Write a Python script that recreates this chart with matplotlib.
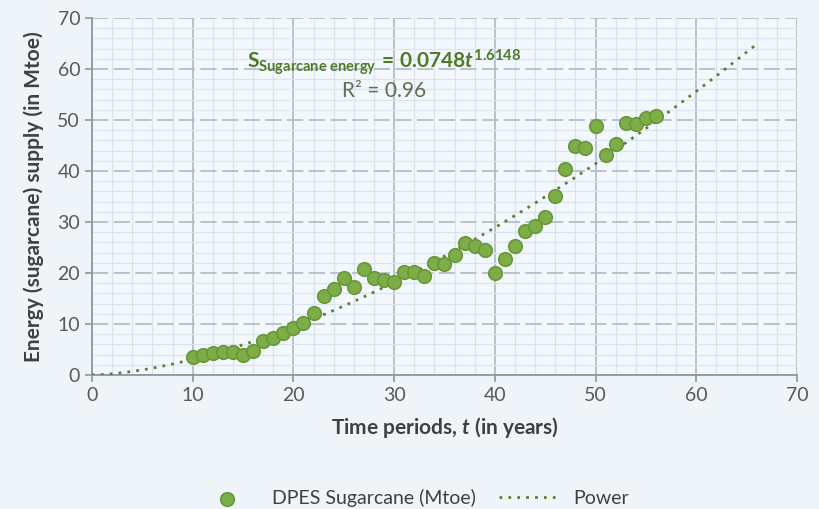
import numpy as np
import matplotlib.pyplot as plt
from matplotlib.ticker import MultipleLocator

# data
t_years = [10, 11, 12, 13, 14, 15, 16, 17, 18, 19, 20, 21, 22, 23, 24, 25,
           26, 27, 28, 29, 30, 31, 32, 33, 34, 35, 36, 37, 38, 39, 40, 41,
           42, 43, 44, 45, 46, 47, 48, 49, 50, 51, 52, 53, 54, 55, 56]
dpes = [3.5, 3.9, 4.3, 4.5, 4.5, 3.9, 4.7, 6.7, 7.2, 8.2, 9.2, 10.2, 12.2,
        15.5, 16.8, 19.0, 17.3, 20.8, 19.0, 18.6, 18.2, 20.1, 20.2, 19.4,
        22.0, 21.8, 23.5, 25.9, 25.3, 24.5, 20.0, 22.7, 25.3, 28.2, 29.2,
        31.0, 35.1, 40.4, 44.9, 44.6, 48.8, 43.1, 45.3, 49.4, 49.3, 50.4, 50.8]
coef_a = 0.0748
coef_b = 1.6148
trend_end = 66

plt.rcParams['font.family'] = ['Lato', 'DejaVu Sans']
plt.rcParams['mathtext.fontset'] = 'custom'
plt.rcParams['mathtext.rm'] = 'Lato:bold'
plt.rcParams['mathtext.it'] = 'Lato:bold:italic'
plt.rcParams['mathtext.bf'] = 'Lato:bold'

txt = '#404040'
green = '#7DAD47'
green_edge = '#6A963A'
trend_col = '#5C7F34'

fig = plt.figure(figsize=(8.19, 5.09), dpi=100, facecolor='#EEF4F8')
ax = fig.add_axes([0.1123, 0.2633, 0.8608, 0.7013])
ax.set_facecolor('#F3F8FC')

# power trend line
tt = np.linspace(0, trend_end, 300)
ln, = ax.plot(tt, coef_a * tt ** coef_b, linestyle=(0, (1, 2.2)),
              color=trend_col, linewidth=2.0, label='Power', zorder=3)
sc = ax.scatter(t_years, dpes, s=95, color=green, edgecolor=green_edge,
                linewidth=1.2, label='DPES Sugarcane (Mtoe)', zorder=4)

ax.set_xlim(0, 70)
ax.set_ylim(0, 70)
ax.xaxis.set_major_locator(MultipleLocator(10))
ax.yaxis.set_major_locator(MultipleLocator(10))
ax.xaxis.set_minor_locator(MultipleLocator(2))
ax.yaxis.set_minor_locator(MultipleLocator(2))

ax.grid(which='minor', color='#DAE4F0', linewidth=0.9)
ax.grid(which='major', axis='x', color='#B4BDCB', linewidth=1.3)
ax.grid(which='major', axis='y', color='#B4BDCB', linewidth=1.3,
        linestyle=(0, (9, 3)))
ax.set_axisbelow(True)

for s in ['top', 'right']:
    ax.spines[s].set_visible(False)
for s in ['left', 'bottom']:
    ax.spines[s].set_color('#8D96A3')
    ax.spines[s].set_linewidth(1.3)
ax.tick_params(which='major', length=5, width=1.2, color='#8D96A3',
               labelsize=14, labelcolor='#595959')
ax.tick_params(which='minor', length=0)

ax.set_xlabel('Time periods, $t$ (in years)', fontsize=15, fontweight='bold',
              color=txt, labelpad=8)
ax.set_ylabel('Energy (sugarcane) supply (in Mtoe)', fontsize=15,
              fontweight='bold', color=txt, labelpad=10)

ax.text(29.0, 61.3,
        r'$\mathrm{S}_{\mathrm{Sugarcane\ energy}}\mathrm{\,=\,0.0748}t^{\mathrm{1.6148}}$',
        fontsize=15, color='#4F7A28', ha='center', va='center')
ax.text(29.0, 55.6, 'R² = 0.96', fontsize=15, color='#5F6F4F',
        ha='center', va='center')

fig.legend([sc, ln], ['DPES Sugarcane (Mtoe)', 'Power'], loc='lower center',
           bbox_to_anchor=(0.505, -0.03), ncol=2, frameon=False, fontsize=14,
           labelcolor=txt, handlelength=3.0, handletextpad=0.8,
           columnspacing=1.2, scatterpoints=1)

fig.savefig('out.png', dpi=100, facecolor=fig.get_facecolor())
